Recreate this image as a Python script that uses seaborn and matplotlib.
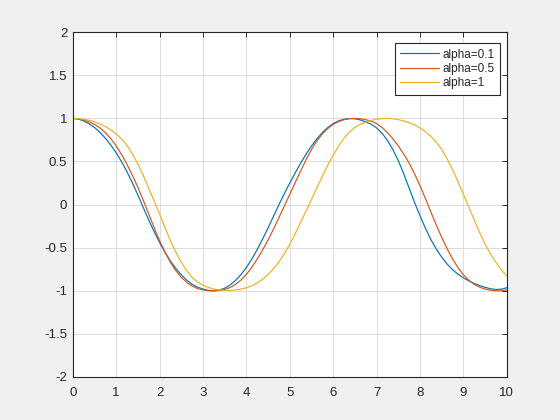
import matplotlib
matplotlib.use("Agg")
import matplotlib.pyplot as plt
import seaborn as sns
import pandas as pd

# values, x step 0.125
x = [i * 0.125 for i in range(81)]

alpha_01 = [1.00, 0.992, 0.97, 0.938, 0.895, 0.838, 0.77, 0.691, 0.60, 0.496,
            0.38, 0.249, 0.11, -0.036, -0.18, -0.315, -0.44, -0.554, -0.655, -0.742,
            -0.815, -0.877, -0.925, -0.958, -0.98, -0.995, -1.00, -0.992, -0.97, -0.932,
            -0.88, -0.812, -0.73, -0.631, -0.52, -0.399, -0.27, -0.135, 0.00, 0.128,
            0.25, 0.368, 0.48, 0.585, 0.68, 0.763, 0.835, 0.894, 0.94, 0.971,
            0.99, 0.998, 0.995, 0.982, 0.96, 0.932, 0.89, 0.828, 0.745, 0.638,
            0.51, 0.357, 0.19, 0.025, -0.13, -0.275, -0.405, -0.515, -0.61, -0.69,
            -0.755, -0.807, -0.85, -0.885, -0.915, -0.940, -0.96, -0.976, -0.985, -0.981,
            -0.965]
alpha_05 = [1.00, 0.994, 0.98, 0.960, 0.93, 0.889, 0.835, 0.765, 0.68, 0.579,
            0.465, 0.338, 0.20, 0.048, -0.11, -0.269, -0.42, -0.553, -0.67, -0.767,
            -0.845, -0.903, -0.945, -0.973, -0.99, -0.999, -1.00, -0.997, -0.985, -0.961,
            -0.925, -0.875, -0.81, -0.727, -0.63, -0.525, -0.41, -0.283, -0.15, -0.016,
            0.12, 0.256, 0.39, 0.521, 0.64, 0.739, 0.82, 0.883, 0.93, 0.963,
            0.985, 0.997, 1.00, 0.996, 0.985, 0.968, 0.94, 0.894, 0.835, 0.763,
            0.68, 0.587, 0.48, 0.357, 0.22, 0.070, -0.085, -0.236, -0.38, -0.512,
            -0.63, -0.731, -0.815, -0.878, -0.925, -0.958, -0.98, -0.994, -1.00, -0.999,
            -0.99]
alpha_1 = [1.00, 0.998, 0.99, 0.978, 0.96, 0.936, 0.905, 0.868, 0.82, 0.761,
           0.685, 0.587, 0.47, 0.335, 0.19, 0.042, -0.11, -0.268, -0.42, -0.553,
           -0.67, -0.768, -0.845, -0.898, -0.935, -0.962, -0.98, -0.991, -0.995, -0.995,
           -0.99, -0.981, -0.965, -0.942, -0.91, -0.866, -0.81, -0.744, -0.665, -0.569,
           -0.46, -0.336, -0.205, -0.073, 0.06, 0.196, 0.33, 0.457, 0.575, 0.680,
           0.77, 0.841, 0.895, 0.932, 0.958, 0.977, 0.99, 0.998, 1.00, 0.995,
           0.985, 0.970, 0.95, 0.924, 0.89, 0.846, 0.79, 0.723, 0.64, 0.531,
           0.405, 0.267, 0.12, -0.030, -0.18, -0.326, -0.46, -0.573, -0.67, -0.756,
           -0.83]

labels = ["alpha=0.1", "alpha=0.5", "alpha=1"]
colors = ["#0072BD", "#D95319", "#EDB120"]

x_ticks = list(range(0, 11))
y_ticks = [-2, -1.5, -1, -0.5, 0, 0.5, 1, 1.5, 2]
y_tick_labels = ["-2", "-1.5", "-1", "-0.5", "0", "0.5", "1", "1.5", "2"]

df = pd.DataFrame({
    "x": x * 3,
    "y": alpha_01 + alpha_05 + alpha_1,
    "series": [labels[0]] * len(x) + [labels[1]] * len(x) + [labels[2]] * len(x),
})

sns.set_style("white")
plt.rcParams["font.family"] = ["Liberation Sans", "DejaVu Sans"]

fig = plt.figure(figsize=(5.6, 4.2), dpi=100, facecolor="#F0F0F0")
ax = fig.add_axes([0.13, 0.1024, 0.775, 0.821])
ax.set_facecolor("white")

sns.lineplot(data=df, x="x", y="y", hue="series", hue_order=labels,
             palette=colors, linewidth=0.85, ax=ax)

ax.set_xlim(0, 10)
ax.set_ylim(-2, 2)
ax.set_xticks(x_ticks)
ax.set_xticklabels([str(t) for t in x_ticks])
ax.set_yticks(y_ticks)
ax.set_yticklabels(y_tick_labels)
ax.set_xlabel("")
ax.set_ylabel("")

ax.grid(True, color="#DCDCDC", linewidth=0.7)
ax.set_axisbelow(True)
for s in ax.spines.values():
    s.set_visible(True)
    s.set_color("#262626")
    s.set_linewidth(0.8)
ax.tick_params(axis="both", direction="in", length=3.5, width=0.7,
               color="#262626", labelcolor="#262626", labelsize=9.5,
               top=True, right=True)
ax.tick_params(axis="x", pad=7.5)
ax.tick_params(axis="y", pad=4)

leg = ax.legend(loc="upper right", bbox_to_anchor=(0.985, 0.968),
                fontsize=8.5, frameon=True, fancybox=False,
                handlelength=3.3, handletextpad=0.3, labelspacing=0.2,
                borderpad=0.45, borderaxespad=0)
leg.get_frame().set_edgecolor("#262626")
leg.get_frame().set_linewidth(0.8)
leg.get_frame().set_alpha(1)

fig.savefig("out.png", dpi=100, facecolor=fig.get_facecolor())
